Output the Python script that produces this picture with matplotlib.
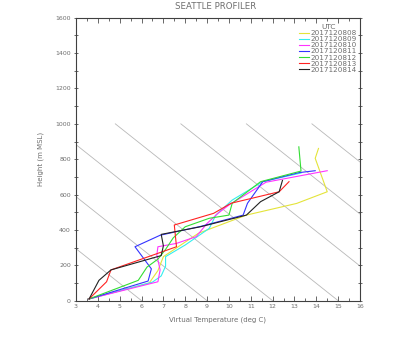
import numpy as np
import matplotlib
matplotlib.use("Agg")
import matplotlib.pyplot as plt
from matplotlib.ticker import MultipleLocator


TITLE = "SEATTLE PROFILER"
X_LABEL = "Virtual Temperature (deg C)"
Y_LABEL = "Height (m MSL)"

# profile times (legend labels)
TIMES = ["2017120808", "2017120809", "2017120810", "2017120811",
         "2017120812", "2017120813", "2017120814"]
COLORS = ["#e4e43a", "#33eeee", "#ff33ff", "#3333ff",
          "#33dd33", "#ff2222", "#222222"]

# virtual temperature (deg C) and height (m) per profile
T_0808 = [3.6, 6.35, 6.75, 7.0, 8.6, 10.8, 13.1, 14.5, 13.95, 14.1]
Z_0808 = [10, 100, 170, 249, 381, 484, 550, 616, 805, 861]

T_0809 = [3.6, 6.5, 6.9, 7.1, 7.1, 8.0, 9.1, 9.4, 10.15, 11.55, 13.3]
Z_0809 = [10, 105, 140, 195, 249, 315, 409, 484, 569, 673, 722]

T_0810 = [3.6, 6.75, 6.85, 6.7, 6.75, 7.6, 8.5, 9.0, 9.5, 10.0, 11.7, 14.5]
Z_0810 = [10, 107, 174, 258, 305, 324, 362, 437, 494, 541, 670, 735]

T_0811 = [3.6, 6.3, 6.45, 5.7, 6.85, 8.7, 10.65, 10.85, 11.55, 13.2, 13.95]
Z_0811 = [10, 111, 180, 305, 370, 420, 484, 551, 673, 724, 735]

T_0812 = [3.6, 5.85, 6.25, 6.75, 7.1, 7.45, 8.0, 9.1, 10.0, 10.15, 11.45,
          13.3, 13.2]
Z_0812 = [10, 115, 190, 235, 290, 355, 418, 466, 484, 551, 673, 733, 870]

T_0813 = [3.6, 4.4, 4.6, 7.6, 7.5, 9.3, 10.1, 12.3, 12.75]
Z_0813 = [10, 107, 174, 305, 428, 494, 551, 616, 673]

T_0814 = [3.6, 4.05, 4.6, 6.9, 7.0, 6.9, 8.7, 10.8, 11.45, 12.3, 12.45]
Z_0814 = [10, 115, 174, 255, 310, 375, 418, 484, 560, 616, 680]

PROFILES = [(T_0808, Z_0808), (T_0809, Z_0809), (T_0810, Z_0810),
            (T_0811, Z_0811), (T_0812, Z_0812), (T_0813, Z_0813),
            (T_0814, Z_0814)]

# dry adiabats: surface temperature (deg C) of each guide line
ADIABAT_T0 = [6, 9, 12, 15, 18, 21, 24]
LAPSE = 0.0102  # deg C per m
ADIABAT_TOP = 1000

TEXT_GRAY = "#6e6e6e"


def main() -> None:
    fig = plt.figure(figsize=(4.0, 3.55), dpi=100)
    ax = fig.add_axes([0.19, 0.153, 0.71, 0.797])

    z_line = np.array([0, ADIABAT_TOP])
    for t0 in ADIABAT_T0:
        ax.plot(t0 - LAPSE * z_line, z_line, color="#b8b8b8", lw=0.6, zorder=1)

    for (temps, heights), label, color in zip(PROFILES, TIMES, COLORS):
        ax.plot(temps, heights, color=color, lw=0.8, label=label, zorder=2)

    ax.set_xlim(3, 16)
    ax.set_ylim(0, 1600)
    ax.xaxis.set_major_locator(MultipleLocator(1))
    ax.xaxis.set_minor_locator(MultipleLocator(0.5))
    ax.yaxis.set_major_locator(MultipleLocator(200))
    ax.yaxis.set_minor_locator(MultipleLocator(100))

    ax.tick_params(axis="x", which="both", direction="in", top=True,
                   colors="#505050", labelcolor=TEXT_GRAY, labelsize=4.5,
                   width=0.6, pad=2.5)
    ax.tick_params(axis="y", which="both", direction="inout", right=True,
                   colors="#505050", labelcolor=TEXT_GRAY, labelsize=4.5,
                   width=0.6, pad=2)
    ax.tick_params(which="major", length=3.5)
    ax.tick_params(which="minor", length=2.5)
    for side in ax.spines.values():
        side.set_color("#404040")
        side.set_linewidth(0.8)

    ax.set_xlabel(X_LABEL, fontsize=5, color=TEXT_GRAY, labelpad=5)
    ax.set_ylabel(Y_LABEL, fontsize=5, color=TEXT_GRAY, labelpad=8)
    fig.text(0.54, 0.982, TITLE, ha="center", va="center",
             fontsize=6.2, color=TEXT_GRAY)

    leg = ax.legend(loc="upper right", bbox_to_anchor=(0.99, 0.977),
                    frameon=False, fontsize=5.2, title="UTC",
                    title_fontsize=5.4, handlelength=1.3, handletextpad=0.3,
                    labelspacing=0.0, borderaxespad=0, borderpad=0,
                    labelcolor=TEXT_GRAY)
    leg.get_title().set_color(TEXT_GRAY)
    for line in leg.get_lines():
        line.set_linewidth(0.8)

    fig.savefig("out.png", dpi=100, facecolor="white")


if __name__ == "__main__":
    main()
